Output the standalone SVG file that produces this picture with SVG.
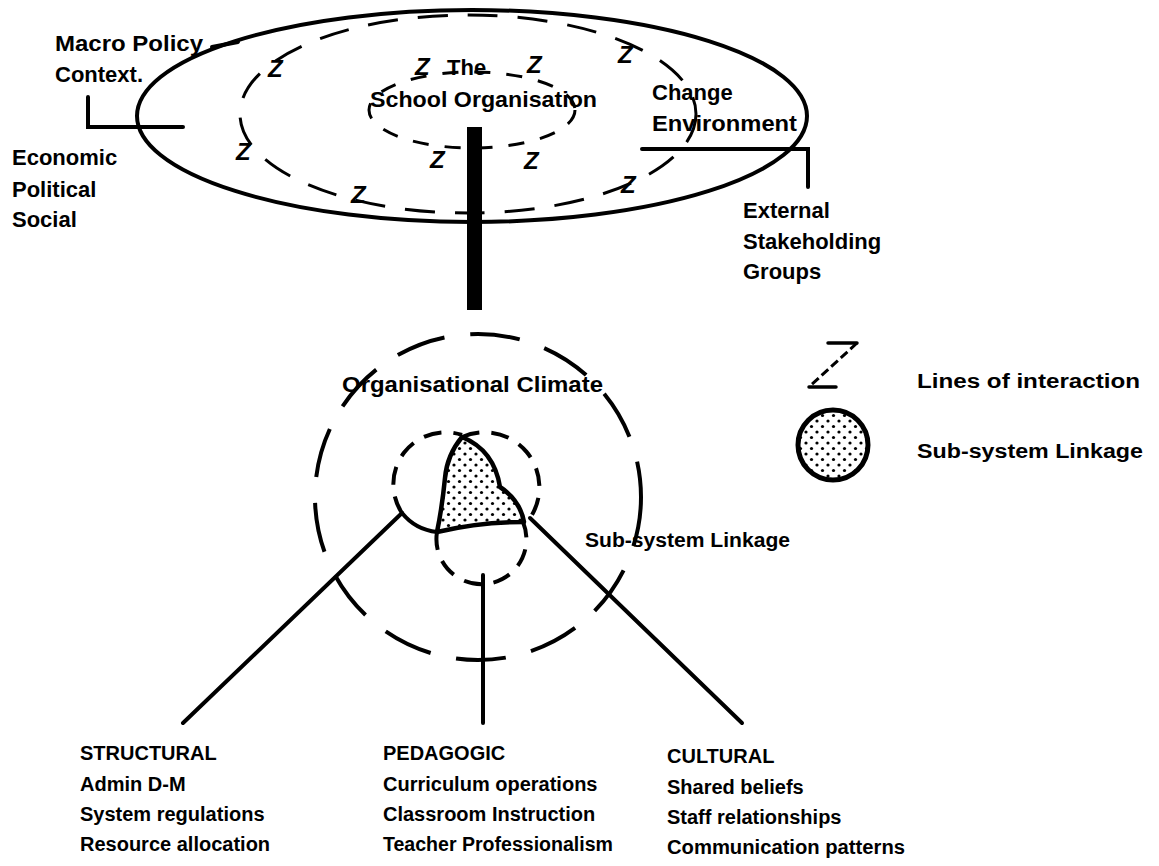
<svg xmlns="http://www.w3.org/2000/svg" width="1159" height="866" viewBox="0 0 1159 866">
<style>
.lbl{font-family:"Liberation Sans",Arial,sans-serif;font-weight:bold;font-size:22px;fill:#000}
.sm{font-family:"Liberation Sans",Arial,sans-serif;font-weight:bold;font-size:20px;fill:#000}
.z{font-family:"Liberation Sans",Arial,sans-serif;font-weight:bold;font-style:italic;font-size:24px;fill:#000}
.solid{fill:none;stroke:#000;stroke-width:4;stroke-linecap:round}
.thin{fill:none;stroke:#000;stroke-width:3.5;stroke-linecap:round}
.dash1{fill:none;stroke:#000;stroke-width:3;stroke-dasharray:30 20}
.dash2{fill:none;stroke:#000;stroke-width:3;stroke-dasharray:16 16}
.dash3{fill:none;stroke:#000;stroke-width:4;stroke-dasharray:50 26}
.dash4{fill:none;stroke:#000;stroke-width:4;stroke-dasharray:18 12}
</style>
<defs>
<pattern id="dots" width="11" height="11" patternUnits="userSpaceOnUse">
<circle cx="3" cy="3" r="1.6" fill="#000"/>
<circle cx="8.5" cy="8.5" r="1.6" fill="#000"/>
</pattern>
</defs>
<rect width="1159" height="866" fill="#fff"/>

<g id="school-organisation">
<ellipse class="solid" cx="472" cy="116" rx="335" ry="106" stroke-width="4.5"/>
<ellipse class="dash1" cx="468" cy="114" rx="228" ry="99"/>
<ellipse class="dash2" cx="472" cy="110" rx="103" ry="38"/>
<text class="lbl" x="447" y="75">The</text>
<text class="lbl" x="370" y="107" textLength="227" lengthAdjust="spacingAndGlyphs">School Organisation</text>
<text class="z" x="415" y="75">Z</text>
<text class="z" x="527" y="73">Z</text>
<text class="z" x="430" y="168">Z</text>
<text class="z" x="524" y="169">Z</text>
<text class="z" x="268" y="77">Z</text>
<text class="z" x="236" y="160">Z</text>
<text class="z" x="351" y="203">Z</text>
<text class="z" x="621" y="193">Z</text>
<text class="z" x="618" y="63">Z</text>
</g>

<g id="macro-policy">
<text class="lbl" x="55" y="51" textLength="148" lengthAdjust="spacingAndGlyphs">Macro Policy</text>
<text class="lbl" x="55" y="82">Context.</text>
</g>

<g id="economic">
<text class="lbl" x="12" y="165">Economic</text>
<text class="lbl" x="12" y="197">Political</text>
<text class="lbl" x="12" y="227">Social</text>
</g>

<g id="change-environment">
<text class="lbl" x="652" y="100">Change</text>
<text class="lbl" x="652" y="131" textLength="145" lengthAdjust="spacingAndGlyphs">Environment</text>
</g>

<g id="external">
<text class="lbl" x="743" y="218">External</text>
<text class="lbl" x="743" y="249">Stakeholding</text>
<text class="lbl" x="743" y="279">Groups</text>
</g>

<g id="organisational-climate">
<circle class="dash3" cx="478" cy="497" r="163"/>
<text class="lbl" x="342" y="392" textLength="261" lengthAdjust="spacingAndGlyphs">Organisational Climate</text>
</g>

<g id="linkage">
<path d="M462,437 Q447,455 445,478 Q442,508 437,532 Q480,522 524,522 Q520,500 500,487 Q494,450 462,437 Z" fill="url(#dots)" stroke="#000" stroke-width="4.5" stroke-linejoin="round"/>
<path class="dash4" d="M402,513 A52,52 0 0,1 462,435"/>
<path class="solid" d="M402,513 A52,52 0 0,0 437,532"/>
<path class="dash4" d="M462,437 A55,55 0 0,1 530,518"/>
<path class="dash4" d="M437,532 A45,45 0 1,0 523,522"/>
<text class="sm" x="585" y="547" textLength="205" lengthAdjust="spacingAndGlyphs">Sub-system Linkage</text>
</g>

<g id="structural">
<text class="sm" x="80" y="760">STRUCTURAL</text>
<text class="sm" x="80" y="791">Admin D-M</text>
<text class="sm" x="80" y="821">System regulations</text>
<text class="sm" x="80" y="851">Resource allocation</text>
</g>

<g id="pedagogic">
<text class="sm" x="383" y="760">PEDAGOGIC</text>
<text class="sm" x="383" y="791">Curriculum operations</text>
<text class="sm" x="383" y="821">Classroom Instruction</text>
<text class="sm" x="383" y="851" textLength="230" lengthAdjust="spacingAndGlyphs">Teacher Professionalism</text>
</g>

<g id="cultural">
<text class="sm" x="667" y="763">CULTURAL</text>
<text class="sm" x="667" y="794">Shared beliefs</text>
<text class="sm" x="667" y="824">Staff relationships</text>
<text class="sm" x="667" y="854" textLength="238" lengthAdjust="spacingAndGlyphs">Communication patterns</text>
</g>

<g id="legend">
<path class="thin" d="M828,343 L857,343"/>
<path fill="none" stroke="#000" stroke-width="3" stroke-dasharray="9 4" d="M857,343 L809,387"/>
<path class="thin" d="M809,387 L836,387"/>
<text class="sm" x="917" y="388" textLength="223" lengthAdjust="spacingAndGlyphs">Lines of interaction</text>
<circle cx="833" cy="445" r="35" fill="url(#dots)" stroke="#000" stroke-width="5"/>
<text class="sm" x="917" y="458" textLength="226" lengthAdjust="spacingAndGlyphs">Sub-system Linkage</text>
</g>

<g id="connectors">
<line class="solid" x1="212" y1="47" x2="238" y2="42"/>
<path class="solid" d="M88,97 L88,127 L183,127"/>
<path class="solid" d="M642,149 L808,149 L808,187"/>
<rect x="467" y="127" width="15" height="183" fill="#000"/>
<line class="solid" x1="402" y1="513" x2="183" y2="723"/>
<line class="solid" x1="483" y1="575" x2="483" y2="723"/>
<line class="solid" x1="530" y1="518" x2="742" y2="723"/>
</g>
</svg>
